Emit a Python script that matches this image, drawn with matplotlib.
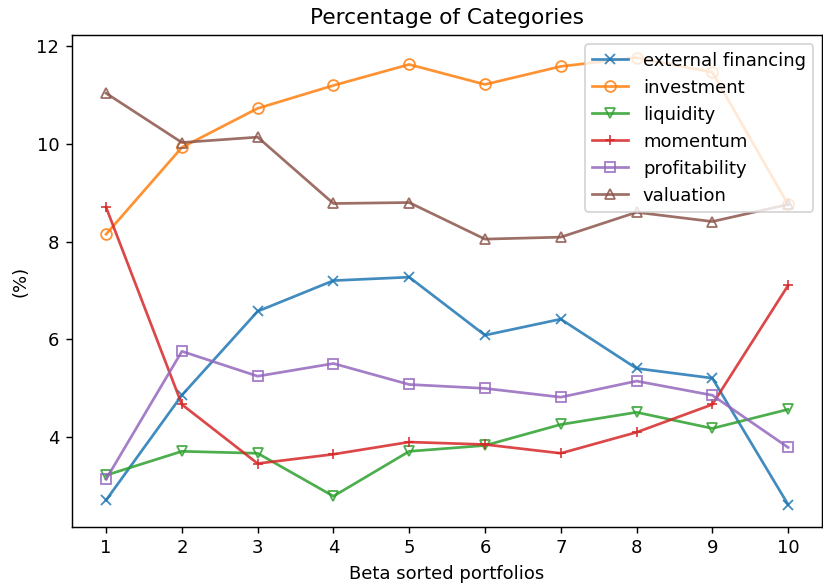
import matplotlib
matplotlib.use("Agg")
import matplotlib.pyplot as plt

# Beta sorted portfolios 1..10
portfolios = list(range(1, 11))

external_financing = [2.70, 4.85, 6.57, 7.20, 7.27, 6.08, 6.41, 5.40, 5.20, 2.61]
investment = [8.15, 9.93, 10.73, 11.20, 11.63, 11.22, 11.59, 11.77, 11.47, 8.76]
liquidity = [3.21, 3.70, 3.66, 2.78, 3.70, 3.82, 4.25, 4.50, 4.17, 4.56]
momentum = [8.70, 4.66, 3.45, 3.64, 3.89, 3.84, 3.66, 4.09, 4.66, 7.10]
profitability = [3.13, 5.75, 5.24, 5.50, 5.07, 4.99, 4.81, 5.14, 4.85, 3.78]
valuation = [11.04, 10.03, 10.14, 8.78, 8.80, 8.05, 8.09, 8.60, 8.41, 8.76]

series = [
    ("external financing", external_financing, "x"),
    ("investment", investment, "o"),
    ("liquidity", liquidity, "v"),
    ("momentum", momentum, "+"),
    ("profitability", profitability, "s"),
    ("valuation", valuation, "^"),
]

fig, ax = plt.subplots(figsize=(823 / 130, 588 / 130), dpi=130)
fig.subplots_adjust(left=0.0875, right=0.999, top=0.940, bottom=0.104)

for name, vals, mk in series:
    ax.plot(portfolios, vals, marker=mk, fillstyle="none", alpha=0.85, label=name)

ax.set_xticks(portfolios)
ax.set_title("Percentage of Categories")
ax.set_xlabel("Beta sorted portfolios")
ax.set_ylabel("(%)")
ax.legend(loc="upper right")

fig.savefig("out.png")
